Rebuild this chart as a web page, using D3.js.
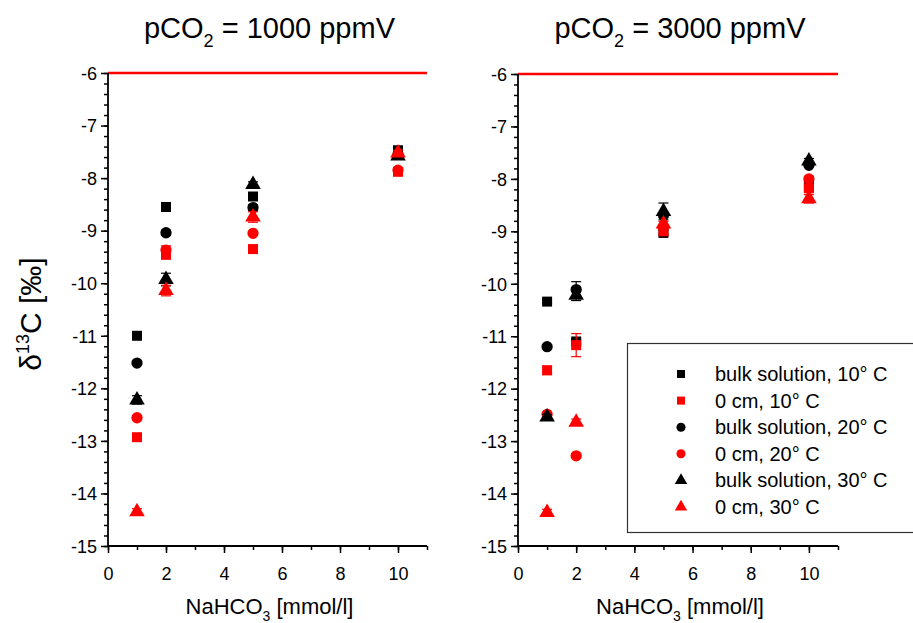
<!DOCTYPE html>
<html><head><meta charset="utf-8">
<script src="https://cdn.jsdelivr.net/npm/d3@7"></script>
<style>body{margin:0;background:#fff}svg{display:block;font-family:"Liberation Sans",Arial,sans-serif}</style>
</head><body>
<svg id="c" width="913" height="623"></svg>
<script>
const xValues = [1, 2, 5, 10];
const panelTitles = ["1000", "3000"];
const seriesNames = ["bulk solution, 10° C","0 cm, 10° C","bulk solution, 20° C","0 cm, 20° C","bulk solution, 30° C","0 cm, 30° C"];
const seriesColors = ["#000","#f00","#000","#f00","#000","#f00"];
const seriesShapes = ["square","square","circle","circle","triangle","triangle"];
// panel 1 (pCO2 = 1000 ppmV)
const p1_bulk10 = [-11.00, -8.55, -8.35, -7.47];
const p1_cm10   = [-12.93, -9.46, -9.35, -7.88];
const p1_bulk20 = [-11.52, -9.04, -8.56, -7.55];
const p1_cm20   = [-12.56, -9.37, -9.05, -7.85];
const p1_bulk30 = [-12.22, -9.93, -8.12, -7.58];
const p1_cm30   = [-14.35, -10.14, -8.74, -7.52];
const p1_err    = [[0.03,0.03,0.03,0.03],[0.03,0.05,0.03,0.05],[0.03,0.05,0.05,0.03],[0.03,0.08,0.03,0.05],[0.08,0.12,0.05,0.05],[0.06,0.1,0.1,0.05]];
// panel 2 (pCO2 = 3000 ppmV)
const p2_bulk10 = [-10.34, -11.10, -9.03, -8.15];
const p2_cm10   = [-11.65, -11.17, -9.00, -8.18];
const p2_bulk20 = [-11.20, -10.11, -8.69, -7.74];
const p2_cm20   = [-12.49, -13.28, -8.92, -8.00];
const p2_bulk30 = [-12.54, -10.22, -8.62, -7.66];
const p2_cm30   = [-14.36, -12.64, -8.86, -8.38];
const p2_err    = [[0.03,0.05,0.05,0.03],[0.08,0.22,0.05,0.05],[0.03,0.15,0.05,0.03],[0.03,0.03,0.03,0.05],[0.05,0.1,0.16,0.05],[0.06,0.06,0.05,0.08]];
const xTicks = [0,2,4,6,8,10];
const yTicks = [-15,-14,-13,-12,-11,-10,-9,-8,-7,-6];
const refLine = -6;

const svg = d3.select("#c");
const panels = [
  {title: panelTitles[0], series:[p1_bulk10,p1_cm10,p1_bulk20,p1_cm20,p1_bulk30,p1_cm30], err:p1_err, x0:108, x1:427, yTop:73, yBot:546},
  {title: panelTitles[1], series:[p2_bulk10,p2_cm10,p2_bulk20,p2_cm20,p2_bulk30,p2_cm30], err:p2_err, x0:518, x1:838, yTop:74, yBot:546}
];
const sym = {square:d3.symbolSquare, circle:d3.symbolCircle, triangle:d3.symbolTriangle};
const symSize = {square:100, circle:100, triangle:105};

panels.forEach((p,pi)=>{
  const x = d3.scaleLinear().domain([0,11]).range([p.x0,p.x1]);
  const y = d3.scaleLinear().domain([-15,-6]).range([p.yBot,p.yTop]);
  const g = svg.append("g");
  g.append("line").attr("x1",x(0)).attr("x2",x(11)).attr("y1",y(refLine)).attr("y2",y(refLine))
    .attr("stroke","#f00").attr("stroke-width",2.5);
  g.append("g").attr("transform",`translate(${x(0)},0)`)
    .call(d3.axisLeft(y).tickValues(d3.range(-15,-5.99,0.2)).tickSize(4).tickFormat(""))
    .call(a=>{a.select(".domain").remove();a.selectAll("line").attr("stroke-width",1.5);});
  const ya = g.append("g").attr("transform",`translate(${x(0)},0)`)
    .call(d3.axisLeft(y).tickValues(yTicks).tickSize(7).tickPadding(4).tickFormat(d=>String(d)));
  ya.select(".domain").attr("d",`M0,${y(-15)}V${y(-6)}`).attr("stroke-width",1.8);
  ya.selectAll("line").attr("stroke-width",1.5);
  ya.selectAll("text").attr("font-size",18).attr("font-family","Liberation Sans Narrow, Liberation Sans, Arial").attr("dy","0.35em");
  g.append("g").attr("transform",`translate(0,${y(-15)})`)
    .call(d3.axisBottom(x).tickValues(d3.range(0,12,1)).tickSize(4).tickFormat(""))
    .call(a=>{a.select(".domain").remove();a.selectAll("line").attr("stroke-width",1.5);});
  const xa = g.append("g").attr("transform",`translate(0,${y(-15)})`)
    .call(d3.axisBottom(x).tickValues(xTicks).tickSize(7).tickPadding(14).tickFormat(d=>String(d)));
  xa.select(".domain").attr("d",`M${x(0)},0H${x(11)}`).attr("stroke-width",1.8);
  xa.selectAll("line").attr("stroke-width",1.5);
  xa.selectAll("text").attr("font-size",18).attr("font-family","Liberation Sans Narrow, Liberation Sans, Arial");
  const cx = (p.x0 + p.x1)/2 + 2;
  const t = g.append("text").attr("x",cx).attr("y",38).attr("text-anchor","middle").attr("font-size",29);
  t.append("tspan").text("pCO");
  t.append("tspan").text("2").attr("font-size",18).attr("dy",9);
  t.append("tspan").text(" = " + p.title + " ppmV").attr("dy",-9);
  const xl = g.append("text").attr("x",cx).attr("y",614).attr("text-anchor","middle").attr("font-size",22);
  xl.append("tspan").text("NaHCO");
  xl.append("tspan").text("3").attr("font-size",14).attr("dy",7);
  xl.append("tspan").text(" [mmol/l]").attr("dy",-7);
  p.series.forEach((vals,si)=>{
    const col = seriesColors[si];
    const sg = g.append("g");
    vals.forEach((v,i)=>{
      const e = p.err[si][i];
      const xx = x(xValues[i]);
      sg.append("line").attr("x1",xx).attr("x2",xx).attr("y1",y(v-e)).attr("y2",y(v+e)).attr("stroke",col).attr("stroke-width",1.2);
      [v-e,v+e].forEach(w=>sg.append("line").attr("x1",xx-5).attr("x2",xx+5).attr("y1",y(w)).attr("y2",y(w)).attr("stroke",col).attr("stroke-width",1.2));
      sg.append("path").attr("d",d3.symbol().type(sym[seriesShapes[si]]).size(symSize[seriesShapes[si]])())
        .attr("transform",`translate(${xx},${y(v)})`).attr("fill",col);
    });
  });
});

const yl = svg.append("text").attr("transform","translate(41,314) rotate(-90)").attr("text-anchor","middle").attr("font-size",30);
yl.append("tspan").text("δ");
yl.append("tspan").text("13").attr("font-size",18).attr("dy",-12);
yl.append("tspan").text("C [‰]").attr("dy",12);

const lg = svg.append("g");
lg.append("rect").attr("x",627.5).attr("y",343.5).attr("width",320).attr("height",189).attr("fill","#fff").attr("stroke","#333").attr("stroke-width",1.2);
seriesNames.forEach((n,i)=>{
  const yy = 374 + i*26.6;
  lg.append("path").attr("d",d3.symbol().type(sym[seriesShapes[i]]).size(symSize[seriesShapes[i]]*0.65)())
    .attr("transform",`translate(681,${yy})`).attr("fill",seriesColors[i]);
  lg.append("text").attr("x",715).attr("y",yy).attr("dy","0.35em").attr("font-size",20).text(n);
});
</script>
</body></html>
